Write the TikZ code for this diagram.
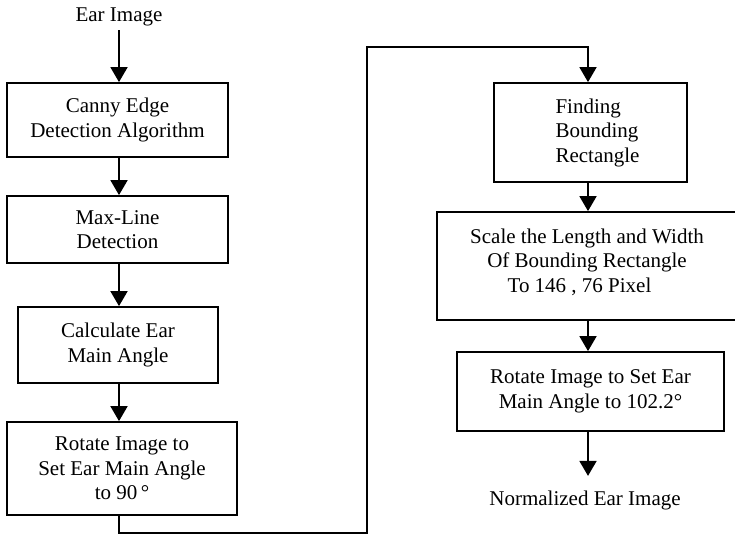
\documentclass[tikz,border=0pt]{standalone}
\usepackage{fontspec}
\setmainfont{Liberation Serif}
\usetikzlibrary{arrows.meta}

\tikzset{
  stepbox/.style={draw=black, line width=1.8pt, fill=white, align=center,
    inner sep=0pt, font=\fontsize{21}{24.5}\selectfont},
  plain/.style={inner sep=0pt, font=\fontsize{21}{24.5}\selectfont},
  flow/.style={line width=1.8pt, -{Triangle[width=17pt,length=15pt]}},
  wire/.style={line width=1.8pt}
}

\begin{document}
\begin{tikzpicture}[x=1pt, y=-1pt]
  \useasboundingbox (0,0) rectangle (735,543);

  % input and output labels
  \node[plain] (in) at (119,17) {Ear Image};
  \node[plain] (out) at (585,500) {Normalized Ear Image};

  % left column
  \node[stepbox, minimum width=221pt, minimum height=74pt] (b1) at (117.5,120)
    {Canny Edge\\Detection Algorithm};
  \node[stepbox, minimum width=221pt, minimum height=67pt] (b2) at (117.5,229.5)
    {Max-Line\\Detection};
  \node[stepbox, minimum width=200pt, minimum height=76pt] (b3) at (118,345)
    {Calculate Ear\\Main Angle};
  \node[stepbox, minimum width=230pt, minimum height=93pt] (b4) at (122,468.5)
    {Rotate Image to\\Set Ear Main Angle\\to 90\,°};

  % right column
  \node[stepbox, align=left, minimum width=193pt, minimum height=99pt] (b5) at (590.5,132.5)
    {\hspace*{14pt}Finding\\\hspace*{14pt}Bounding\\\hspace*{14pt}Rectangle};
  \node[stepbox, minimum width=300pt, minimum height=108pt] (b6) at (587,266) {};
  \node[plain, align=center] (t6) at (587,262)
    {Scale the Length and Width\\Of Bounding Rectangle\hspace*{15pt}\\To 146 , 76 Pixel\hspace*{15pt}};
  \node[stepbox, minimum width=267pt, minimum height=79pt] (b7) at (590.5,391.5)
    {Rotate Image to Set Ear\\Main Angle to 102.2°};

  % reference columns for the connectors
  \coordinate (cl) at (119,0);
  \coordinate (cr) at (588,0);
  \coordinate (lowturn) at (367,533);
  \coordinate (highturn) at (367,47);

  % left column flow
  \draw[flow] (in.south -| cl) ++(0,4) -- (b1.north -| cl);
  \draw[flow] (b1.south -| cl) -- (b2.north -| cl);
  \draw[flow] (b2.south -| cl) -- (b3.north -| cl);
  \draw[flow] (b3.south -| cl) -- (b4.north -| cl);

  % link from the left column to the right column
  \draw[flow] (b4.south -| cl) |- (lowturn) -- (highturn) -| (b5.north -| cr);

  % right column flow
  \draw[flow] (b5.south -| cr) -- (b6.north -| cr);
  \draw[flow] (b6.south -| cr) -- (b7.north -| cr);
  \draw[flow] (b7.south -| cr) -- ++(0,44);
\end{tikzpicture}
\end{document}
